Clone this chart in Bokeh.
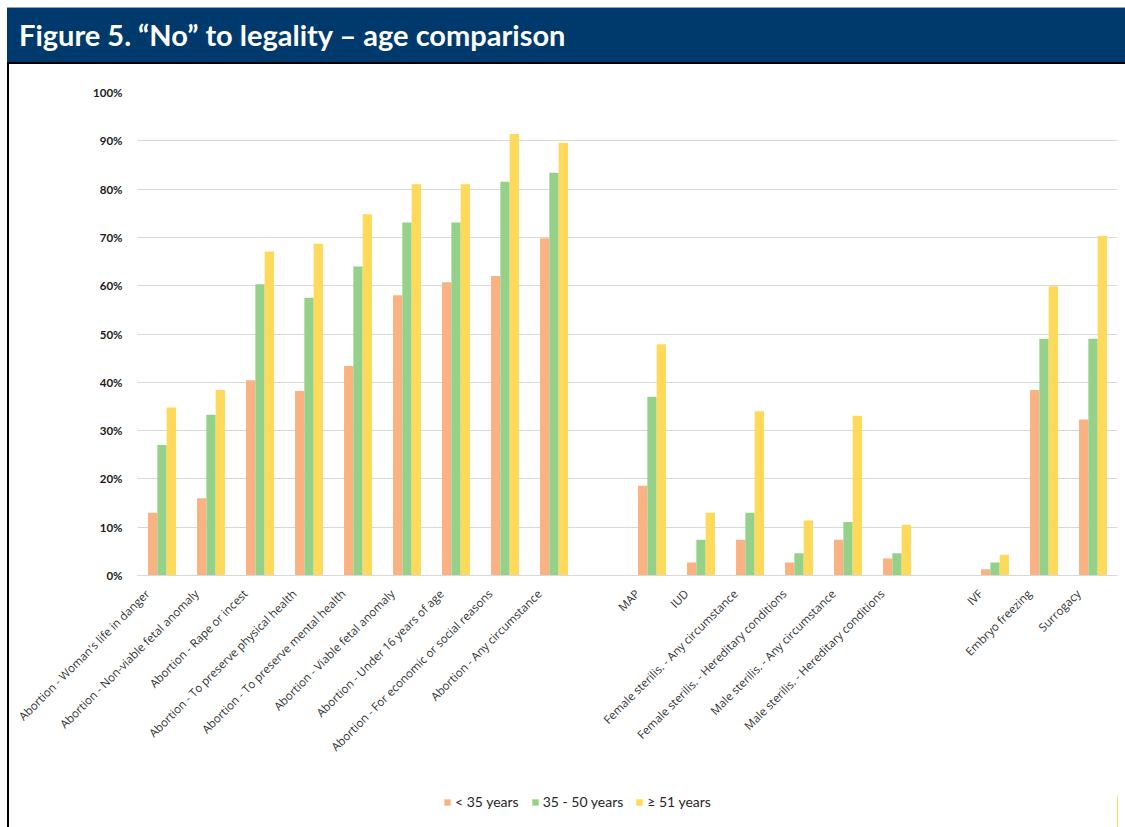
import math
from bokeh.plotting import figure
from bokeh.models import (ColumnDataSource, Legend, LegendItem, Range1d,
                          NumeralTickFormatter, FixedTicker, LinearAxis, Div)
from bokeh.transform import dodge
from bokeh.layouts import column
from bokeh.embed import file_html
from bokeh.resources import INLINE

title_text = "Figure 5. \u201cNo\u201d to legality \u2013 age comparison"

categories = [
    "Abortion - Woman's life in danger",
    "Abortion - Non-viable fetal anomaly",
    "Abortion - Rape or incest",
    "Abortion - To preserve physical health",
    "Abortion - To preserve mental health",
    "Abortion - Viable fetal anomaly",
    "Abortion - Under 16 years of age",
    "Abortion - For economic or social reasons",
    "Abortion - Any circumstance",
    "MAP",
    "IUD",
    "Female sterilis. - Any circumstance",
    "Female sterilis. - Hereditary conditions",
    "Male sterilis. - Any circumstance",
    "Male sterilis. - Hereditary conditions",
    "IVF",
    "Embryo freezing",
    "Surrogacy",
]

under_35 = [0.130, 0.160, 0.404, 0.382, 0.434, 0.580, 0.607, 0.620, 0.698,
            0.186, 0.027, 0.074, 0.027, 0.074, 0.035,
            0.013, 0.384, 0.323]
age_35_50 = [0.270, 0.333, 0.603, 0.575, 0.640, 0.731, 0.731, 0.815, 0.834,
             0.370, 0.074, 0.130, 0.046, 0.111, 0.046,
             0.027, 0.490, 0.490]
age_51_plus = [0.348, 0.384, 0.671, 0.687, 0.748, 0.810, 0.810, 0.914, 0.896,
               0.479, 0.130, 0.340, 0.114, 0.331, 0.105,
               0.043, 0.599, 0.703]

series_names = ["< 35 years", "35 - 50 years", "\u2265 51 years"]
series_colors = ["#FBB282", "#96D18A", "#FFD95A"]

y_ticks = [0.0, 0.1, 0.2, 0.3, 0.4, 0.5, 0.6, 0.7, 0.8, 0.9, 1.0]

# category slots, with an empty slot between the three groups
slots = categories[:9] + [""] + categories[9:15] + [""] + categories[15:]
slot_index = [i for i, s in enumerate(slots) if s != ""]

# ---- title band ----
band = Div(text=title_text, width=1118, height=57, margin=0,
           styles={"background-color": "#003A6C", "color": "white",
                   "font-family": "Lato", "font-weight": "bold", "font-size": "29px",
                   "line-height": "54px", "padding-left": "12px",
                   "border-top": "1px solid #A0A0A0", "border-bottom": "2px solid black",
                   "box-sizing": "border-box", "white-space": "nowrap"})

# ---- chart ----
src = ColumnDataSource(dict(cat=categories, slot=[i + 0.5 for i in slot_index],
                            a=under_35, b=age_35_50, c=age_51_plus))

p = figure(width=1116, height=726, x_range=Range1d(0, len(slots)),
           y_range=Range1d(0, 1.0), toolbar_location=None, output_backend="svg",
           min_border_left=128, min_border_right=8, min_border_top=28, min_border_bottom=215,
           x_axis_location=None)
p.styles = {"border-left": "2px solid black"}
p.outline_line_color = None

bw = 0.19
fields = ["a", "b", "c"]
offsets = [-bw, 0.0, bw]
for f, off, col in zip(fields, offsets, series_colors):
    p.vbar(x=dodge("slot", off), top=f, width=bw, source=src,
           fill_color=col, line_color=None)

p.xgrid.visible = False
p.ygrid.grid_line_color = "#D9D9D9"
p.ygrid.grid_line_width = 1
p.yaxis.ticker = FixedTicker(ticks=y_ticks)
p.yaxis.formatter = NumeralTickFormatter(format="0%")
p.yaxis.axis_line_color = None
p.yaxis.major_tick_line_color = None
p.yaxis.minor_tick_line_color = None
p.yaxis.major_tick_out = 0
p.yaxis.major_label_standoff = 15
p.yaxis.major_label_text_font = "Lato"
p.yaxis.major_label_text_font_size = "11.5px"
p.yaxis.major_label_text_font_style = "bold"
p.yaxis.major_label_text_color = "#1A1A1A"

# category labels: Excel-style, end of each rotated label sits slightly left of its slot centre
shift = 0.3
p.extra_x_ranges = {"lab": Range1d(-0.5 + shift, len(slots) - 0.5 + shift)}
lab_axis = LinearAxis(x_range_name="lab",
                      ticker=FixedTicker(ticks=list(range(len(slots)))),
                      major_label_overrides={i: s for i, s in enumerate(slots)})
lab_axis.axis_line_color = "#D9D9D9"
lab_axis.major_tick_line_color = None
lab_axis.minor_tick_line_color = None
lab_axis.major_tick_out = 0
lab_axis.major_label_orientation = math.pi / 4
lab_axis.major_label_standoff = 16
lab_axis.major_label_text_font = "Open Sans"
lab_axis.major_label_text_font_size = "11.5px"
lab_axis.major_label_text_color = "#333333"
p.add_layout(lab_axis, "below")

# ---- legend strip (same series, drawn off-range so only the legend shows) ----
q = figure(width=1116, height=37, x_range=Range1d(-3, -2), y_range=Range1d(0, 1),
           toolbar_location=None, output_backend="svg", min_border=0,
           x_axis_location=None, y_axis_location=None)
q.styles = {"border-left": "2px solid black"}
q.outline_line_color = None
q.grid.visible = False
swatches = []
for f, off, col in zip(fields, offsets, series_colors):
    swatches.append(q.vbar(x=dodge("slot", off), top=f, width=bw, source=src,
                           fill_color=col, line_color=None))
legend = Legend(items=[LegendItem(label=n, renderers=[r]) for n, r in zip(series_names, swatches)],
                orientation="horizontal", location=(306, 17),
                border_line_color=None, background_fill_alpha=0,
                label_text_font="Lato", label_text_font_size="14px",
                label_text_color="#262626",
                glyph_width=8, glyph_height=8, label_standoff=4, spacing=12,
                padding=0, margin=0)
q.add_layout(legend, "center")

layout = column(band, p, q, spacing=0, margin=(7, 0, 0, 7))
open("out.html", "w").write(file_html(layout, INLINE))
